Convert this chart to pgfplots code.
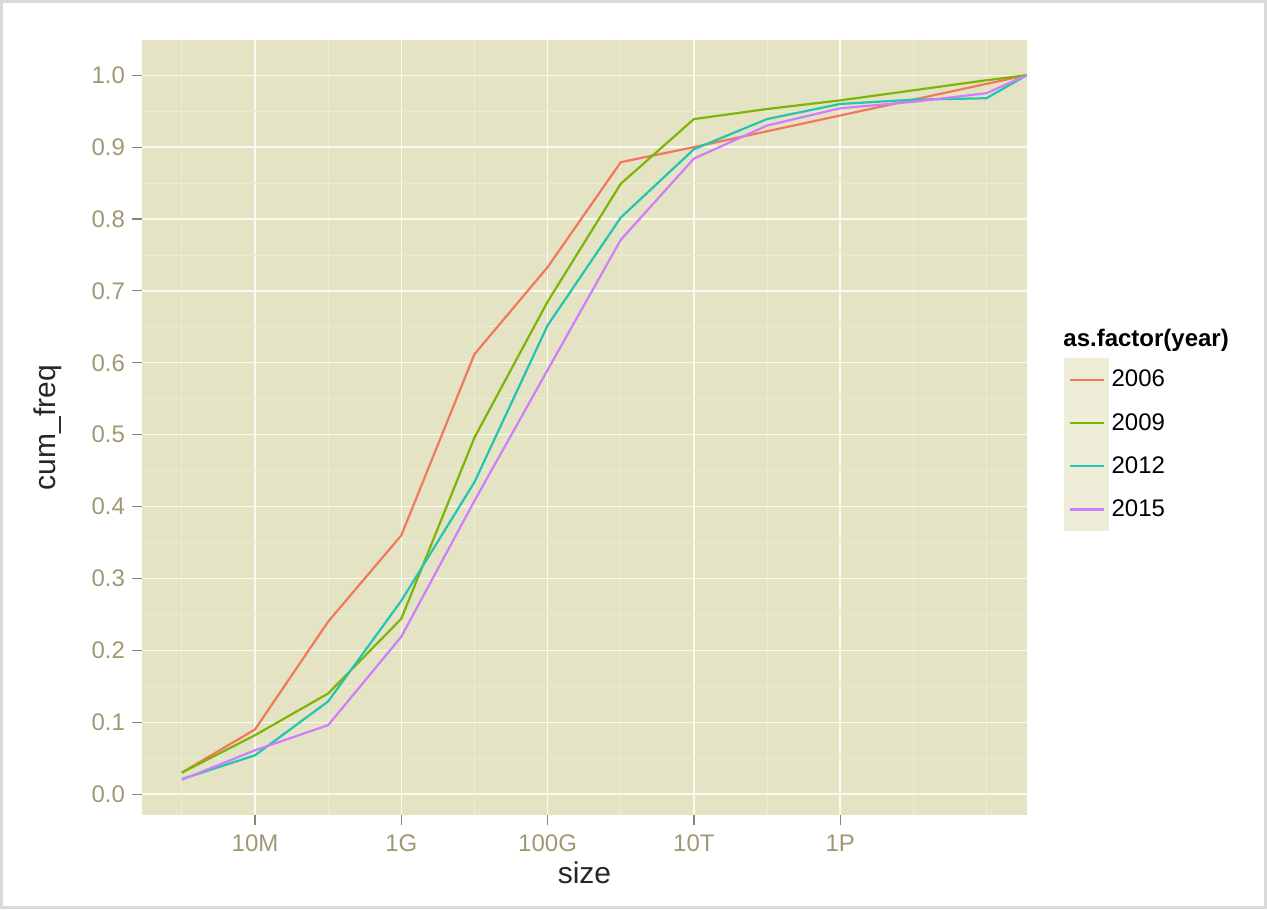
\documentclass[border=0pt]{standalone}
\usepackage{pgfplots}
\pgfplotsset{compat=1.18}
\usepackage{pgfplotstable}
\usepackage{fontspec}
\setmainfont{Liberation Sans}
\definecolor{panelbg}{RGB}{228,228,197}
\definecolor{keybg}{RGB}{238,238,216}
\definecolor{gridmaj}{RGB}{250,250,240}
\definecolor{gridmin}{RGB}{236,236,210}
\definecolor{ticktxt}{RGB}{160,152,115}
\definecolor{tickmk}{RGB}{140,132,100}
\definecolor{cA}{RGB}{242,120,92}
\definecolor{cB}{RGB}{126,180,8}
\definecolor{cC}{RGB}{36,196,176}
\definecolor{cD}{RGB}{206,126,250}
\definecolor{framec}{RGB}{218,218,218}
\pgfplotstableread{
x     a     b     c     d
6     0.030 0.030 0.021 0.020
7     0.090 0.082 0.054 0.061
8     0.240 0.140 0.129 0.096
9     0.360 0.244 0.269 0.219
10    0.612 0.496 0.434 0.408
11    0.733 0.685 0.652 0.590
12    0.879 0.849 0.802 0.771
13    0.900 0.939 0.897 0.884
14    0.922 0.953 0.939 0.930
15    0.944 0.965 0.960 0.954
16    0.966 0.979 0.966 0.963
17    0.988 0.993 0.968 0.975
17.55 1.000 1.000 1.000 1.000
}\datatab
\begin{document}
\begin{tikzpicture}
\useasboundingbox (0,0) rectangle (633.5pt,454.5pt);
\draw[framec, line width=1.5pt] (0.75pt,0.75pt) rectangle (632.75pt,453.75pt);
\begin{axis}[
  at={(71pt,47pt)}, anchor=south west,
  scale only axis, width=442.5pt, height=387.5pt,
  xmin=5.455, xmax=17.554, ymin=-0.029, ymax=1.049,
  axis background/.style={fill=panelbg},
  axis line style={draw=none},
  tick pos=left, tick align=outside,
  major tick length=5pt, minor tick length=0pt,
  tick style={tickmk, line width=0.6pt},
  xtick={7,9,11,13,15}, xticklabels={10M,1G,100G,10T,1P},
  minor xtick={6,8,10,12,14,16,17},
  ytick={0,0.1,...,1.0},
  minor ytick={0.05,0.15,...,0.96},
  yticklabel style={/pgf/number format/.cd, fixed, fixed zerofill, precision=1},
  /pgf/number format/assume math mode=true,
  ticklabel style={font=\fontsize{12pt}{14pt}\selectfont, text=ticktxt},
  xticklabel style={yshift=-1.5pt},
  grid=both,
  major grid style={gridmaj, line width=0.7pt},
  minor grid style={gridmin, line width=0.4pt},
  xlabel={size}, ylabel={cum\_freq},
  label style={font=\fontsize{15pt}{18pt}\selectfont, text=black!85},
  xlabel style={at={(axis description cs:0.5,-0.075)}, anchor=center},
  ylabel style={at={(axis description cs:-0.106,0.5)}, anchor=center},
  clip mode=individual,
  legend style={at={(axis description cs:1.0418,0.5897)}, anchor=north west,
    draw=none, fill=none, inner sep=0pt, row sep=0pt,
    font=\fontsize{12pt}{14pt}\selectfont, cells={anchor=west},
    nodes={inner sep=1.5pt}},
  legend image code/.code={
    \fill[keybg] (0pt,-10.25pt) rectangle (21pt,10.25pt);
    \draw[#1] (2pt,0pt) -- (19pt,0pt);
  },
  every axis plot/.append style={line width=1.1pt},
]
\addplot[cA] table[x=x,y=a]{\datatab};
\addplot[cB] table[x=x,y=b]{\datatab};
\addplot[cC] table[x=x,y=c]{\datatab};
\addplot[cD] table[x=x,y=d]{\datatab};
\legend{2006,2009,2012,2015}
\node[anchor=west, inner sep=0pt, font=\fontsize{12pt}{14pt}\selectfont\bfseries] at (axis description cs:1.0407,0.613) {as.factor(year)};
\end{axis}
\end{tikzpicture}
\end{document}
